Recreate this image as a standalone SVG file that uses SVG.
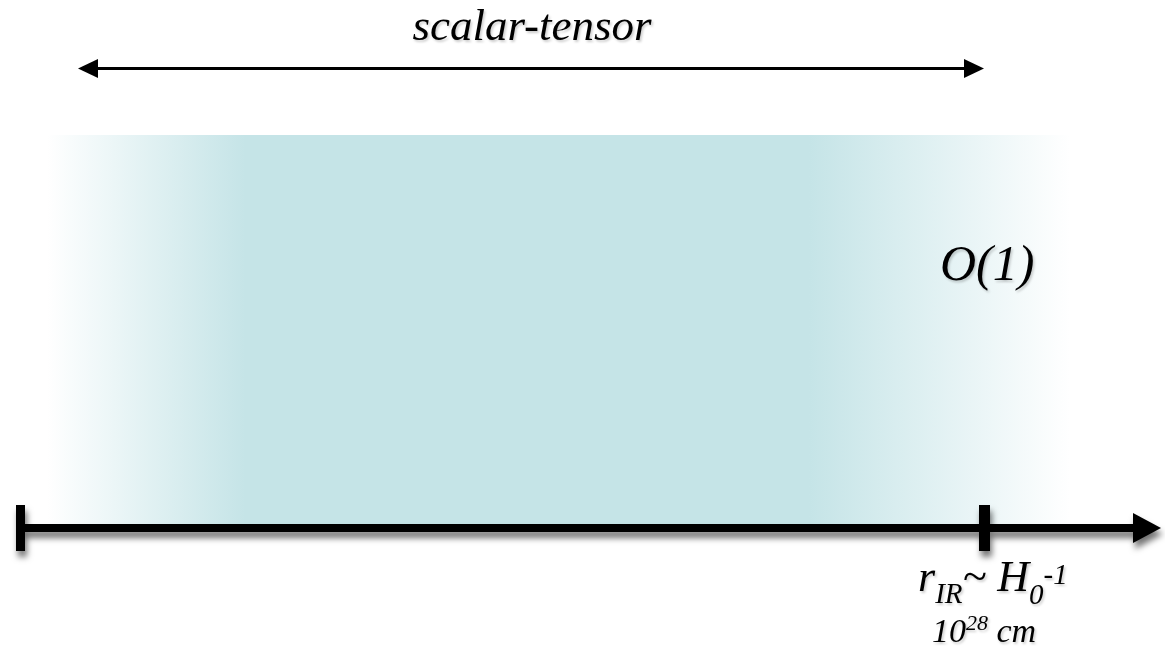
<svg xmlns="http://www.w3.org/2000/svg" width="1165" height="665" viewBox="0 0 1165 665">
  <defs>
    <linearGradient id="band" x1="47" y1="0" x2="1070" y2="0" gradientUnits="userSpaceOnUse">
      <stop offset="0" stop-color="#c5e4e7" stop-opacity="0"/>
      <stop offset="0.194" stop-color="#c5e4e7" stop-opacity="1"/>
      <stop offset="0.745" stop-color="#c5e4e7" stop-opacity="1"/>
      <stop offset="1" stop-color="#c5e4e7" stop-opacity="0"/>
    </linearGradient>
    <filter id="axisShadow" x="-5%" y="-100%" width="110%" height="300%">
      <feDropShadow dx="2" dy="6" stdDeviation="3" flood-color="#000" flood-opacity="0.55"/>
    </filter>
    <filter id="textShadow" x="-10%" y="-20%" width="120%" height="150%">
      <feDropShadow dx="1.5" dy="2" stdDeviation="1" flood-color="#000" flood-opacity="0.2"/>
    </filter>
  </defs>
  <style>
    .lbl { font-family: "Liberation Serif", "Times New Roman", serif; font-style: italic; fill: #000; filter: url(#textShadow); }
    .ink { fill: #000; }
  </style>
  <rect width="1165" height="665" fill="#fff"/>

  <!-- shaded range band -->
  <g id="band-region">
    <rect x="47" y="135" width="1023" height="392" fill="url(#band)"/>
  </g>

  <!-- connectors: range arrow and distance axis -->
  <g id="connectors">
    <g id="range-arrow">
      <line x1="96" y1="68.5" x2="966" y2="68.5" stroke="#000" stroke-width="3"/>
      <polygon class="ink" points="78,68.5 98,59 98,78"/>
      <polygon class="ink" points="984,68.5 964,59 964,78"/>
    </g>
    <g id="axis" filter="url(#axisShadow)">
      <rect class="ink" x="16" y="524" width="1120" height="8"/>
      <rect class="ink" x="16" y="505" width="9" height="46"/>
      <rect class="ink" x="979" y="505" width="11" height="46"/>
      <polygon class="ink" points="1133,513 1161,528 1133,543"/>
    </g>
  </g>

  <g id="label-scalar-tensor">
    <text class="lbl" x="532" y="40" font-size="45" text-anchor="middle">scalar-tensor</text>
  </g>

  <g id="label-order-one">
    <text class="lbl" x="940" y="280" font-size="50">O(1)</text>
  </g>

  <g id="label-rir">
    <text class="lbl" x="918" y="591" font-size="44">r<tspan font-size="29" dy="12">IR</tspan><tspan dy="-12">~ H</tspan><tspan font-size="29" dy="13">0</tspan><tspan font-size="29" dy="-20">-1</tspan></text>
  </g>

  <g id="label-scale">
    <text class="lbl" x="932" y="642" font-size="34">10<tspan font-size="22" dy="-12">28</tspan><tspan dy="12"> cm</tspan></text>
  </g>
</svg>
